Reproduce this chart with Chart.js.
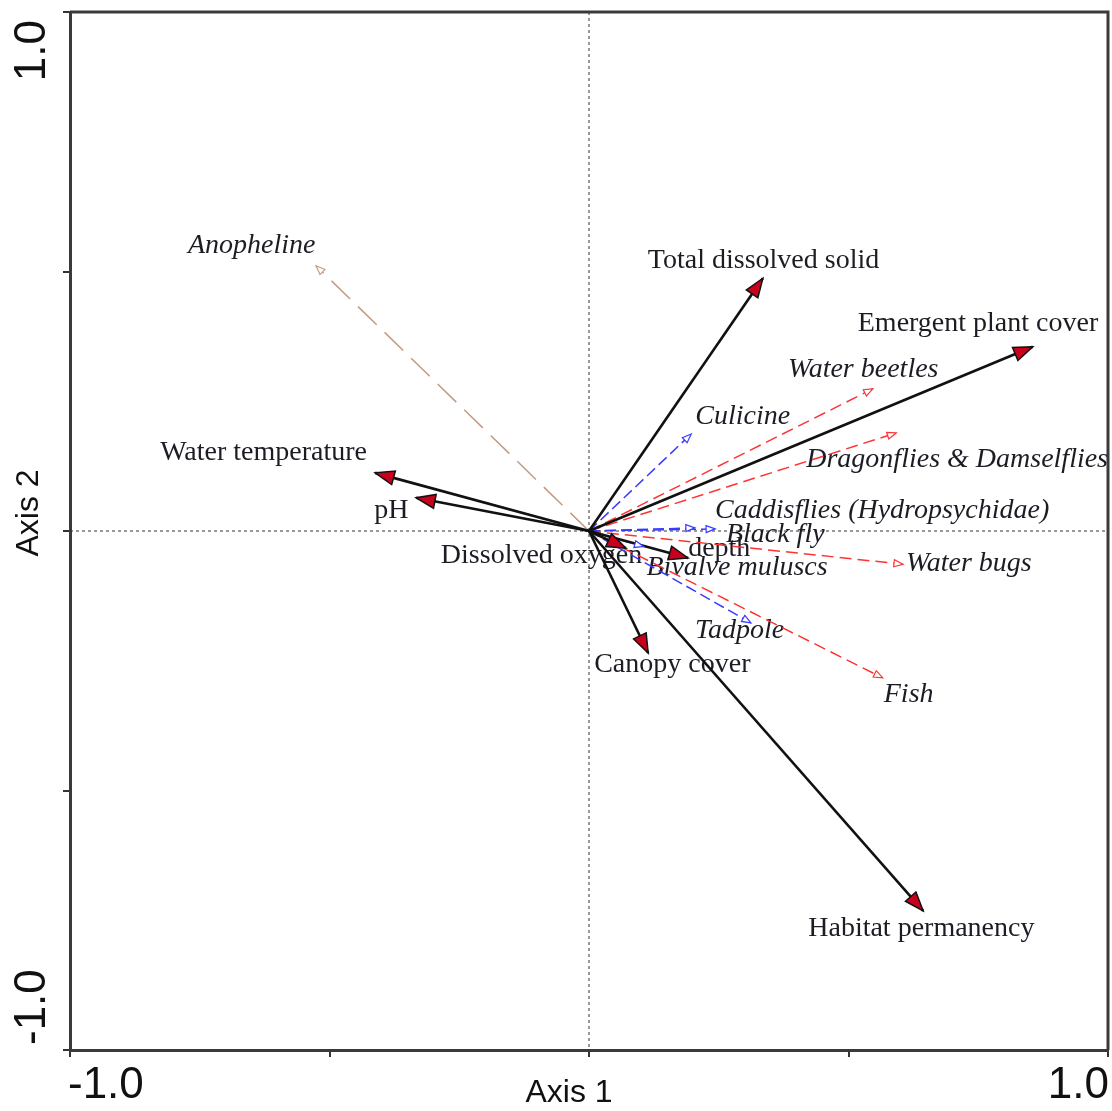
<!DOCTYPE html>
<html>
<head>
<meta charset="utf-8">
<script src="https://cdn.jsdelivr.net/npm/chart.js@4.4.1/dist/chart.umd.min.js"></script>
<style>
  html, body { margin: 0; padding: 0; background: #fff; }
</style>
</head>
<body>
<canvas id="myChart" width="1112" height="1111"></canvas>
<script>
// environmental variables (solid black arrows)
const envNames = ["Total dissolved solid", "Emergent plant cover", "Water temperature", "pH",
  "Dissolved oxygen", "depth", "Canopy cover", "Habitat permanency"];
const envX = [0.335, 0.855, -0.412, -0.333, 0.071, 0.191, 0.114, 0.644];
const envY = [0.487, 0.355, 0.112, 0.064, -0.033, -0.052, -0.235, -0.732];

// taxa (dashed arrows)
const taxaNames = ["Anopheline", "Culicine", "Water beetles", "Dragonflies & Damselflies",
  "Caddisflies (Hydropsychidae)", "Black fly", "Water bugs", "Bivalve muluscs", "Tadpole", "Fish"];
const taxaX = [-0.526, 0.197, 0.547, 0.592, 0.243, 0.204, 0.605, 0.105, 0.312, 0.566];
const taxaY = [0.511, 0.187, 0.274, 0.189, 0.004, 0.006, -0.064, -0.030, -0.177, -0.283];

const tickValues = [-1, -0.5, 0, 0.5, 1];
const tickLabels = ["-1.0", "1.0"];
const axisTitles = ["Axis 1", "Axis 2"];

// styles kept apart from the data
const RED = "#ff3333", BLUE = "#3b3bff", BROWN = "#c49a80";
const taxaColors = [BROWN, BLUE, RED, RED, BLUE, BLUE, RED, BLUE, BLUE, RED];
const taxaDash = [[26, 11], [11, 5], [12, 6], [12, 6], [11, 5], [11, 5], [12, 6], [11, 5], [11, 5], [12, 6]];
// label offsets from arrow tip (px): [dx of text left edge, dy of text middle]
const envShift = [[-115, -18], [-175, -23], [-215, -20], [-42, 13], [-185, 8], [0, -9], [-54, 12], [-115, 18]];
const taxaShift = [[-128, -20], [4, -17], [-85, -19], [-90, 27], [0, -18], [31, 7], [3, -1], [3, 21], [-56, 8], [1, 17]];

const datasets = [];
envNames.forEach((n, i) => {
  datasets.push({
    label: n, kind: "env", shift: envShift[i],
    data: [{ x: 0, y: 0 }, { x: envX[i], y: envY[i] }],
    borderColor: "#111", borderWidth: 2.6, showLine: true, pointRadius: 0,
  });
});
taxaNames.forEach((n, i) => {
  datasets.push({
    label: n, kind: "taxa", shift: taxaShift[i],
    data: [{ x: 0, y: 0 }, { x: taxaX[i], y: taxaY[i] }],
    borderColor: taxaColors[i], borderDash: taxaDash[i], borderWidth: 1.5,
    showLine: true, pointRadius: 0,
  });
});

const frame = {
  id: "frame",
  beforeDatasetsDraw(chart) {
    const { ctx, chartArea: a, scales } = chart;
    const x0 = scales.x.getPixelForValue(0), y0 = scales.y.getPixelForValue(0);
    ctx.save();
    // dotted zero lines
    ctx.strokeStyle = "#333";
    ctx.lineWidth = 1;
    ctx.setLineDash([3, 3]);
    ctx.beginPath();
    ctx.moveTo(x0, a.top); ctx.lineTo(x0, a.bottom);
    ctx.moveTo(a.left, y0); ctx.lineTo(a.right, y0);
    ctx.stroke();
    ctx.setLineDash([]);
    // top and right edges of box
    ctx.strokeStyle = "#3a3a3a";
    ctx.lineWidth = 3;
    ctx.beginPath();
    ctx.moveTo(a.left, a.top); ctx.lineTo(a.right, a.top); ctx.lineTo(a.right, a.bottom);
    ctx.stroke();
    // labels (drawn under the arrows)
    ctx.fillStyle = "#1c1c24";
    ctx.textAlign = "left";
    ctx.textBaseline = "middle";
    chart.data.datasets.forEach((ds, i) => {
      const p = chart.getDatasetMeta(i).data[1];
      ctx.font = (ds.kind === "taxa" ? "italic " : "") + "28px 'Liberation Serif', 'Times New Roman', serif";
      ctx.fillText(ds.label, p.x + ds.shift[0], p.y + ds.shift[1]);
    });
    // tick labels
    ctx.font = "44px 'Liberation Sans', Arial, sans-serif";
    ctx.fillStyle = "#111";
    ctx.textAlign = "left";
    ctx.fillText(tickLabels[0], scales.x.getPixelForValue(-1) - 2, 1086);
    ctx.textAlign = "right";
    ctx.fillText(tickLabels[1], scales.x.getPixelForValue(1) + 1, 1086);
    ctx.save();
    ctx.translate(33, 0);
    ctx.rotate(-Math.PI / 2);
    ctx.textAlign = "right";
    ctx.fillText(tickLabels[1], -(scales.y.getPixelForValue(1) + 8), 0);
    ctx.textAlign = "left";
    ctx.fillText(tickLabels[0], -(scales.y.getPixelForValue(-1) - 5), 0);
    ctx.restore();
    // axis titles
    ctx.font = "32px 'Liberation Sans', Arial, sans-serif";
    ctx.textAlign = "center";
    ctx.fillText(axisTitles[0], 569, 1093);
    ctx.save();
    ctx.translate(29, 513);
    ctx.rotate(-Math.PI / 2);
    ctx.fillText(axisTitles[1], 0, 0);
    ctx.restore();
    ctx.restore();
  },
  afterDatasetsDraw(chart) {
    const { ctx } = chart;
    ctx.save();
    chart.data.datasets.forEach((ds, i) => {
      const pts = chart.getDatasetMeta(i).data;
      const p0 = pts[0], p1 = pts[1];
      const ang = Math.atan2(p1.y - p0.y, p1.x - p0.x);
      const len = ds.kind === "env" ? 19 : 9;
      const hw = ds.kind === "env" ? 7 : 3.5;
      ctx.save();
      ctx.translate(p1.x, p1.y);
      ctx.rotate(ang);
      ctx.beginPath();
      ctx.moveTo(0, 0);
      ctx.lineTo(-len, -hw);
      ctx.lineTo(-len, hw);
      ctx.closePath();
      ctx.setLineDash([]);
      if (ds.kind === "env") {
        ctx.fillStyle = "#c8001e";
        ctx.fill();
        ctx.strokeStyle = "#111";
        ctx.lineWidth = 1.5;
        ctx.stroke();
      } else {
        ctx.fillStyle = "#fff";
        ctx.fill();
        ctx.strokeStyle = ds.borderColor;
        ctx.lineWidth = 1.2;
        ctx.stroke();
      }
      ctx.restore();
    });
    ctx.restore();
  },
};

const axisOpts = (fit) => ({
  type: "linear", min: -1, max: 1,
  afterBuildTicks: (s) => { s.ticks = tickValues.map((v) => ({ value: v })); },
  ticks: { display: false },
  grid: { drawOnChartArea: false, drawTicks: true, tickLength: 7, color: "#333", lineWidth: 2 },
  border: { display: true, color: "#3a3a3a", width: 3 },
  afterFit: fit,
});

new Chart("myChart", {
  type: "scatter",
  data: { datasets: datasets },
  options: {
    responsive: false,
    animation: false,
    devicePixelRatio: 1,
    layout: { padding: { top: 12, right: 4, left: 0, bottom: 0 } },
    plugins: { legend: { display: false }, tooltip: { enabled: false } },
    scales: {
      x: axisOpts((s) => { s.height = 61; }),
      y: axisOpts((s) => { s.width = 70; }),
    },
  },
  plugins: [frame],
});
</script>
</body>
</html>
